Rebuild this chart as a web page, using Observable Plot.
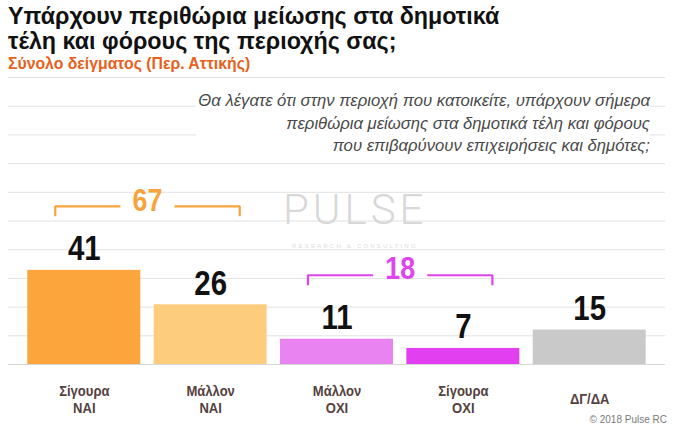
<!DOCTYPE html>
<html>
<head>
<meta charset="utf-8">
<script src="https://cdn.jsdelivr.net/npm/d3@7"></script>
<script src="https://cdn.jsdelivr.net/npm/@observablehq/plot@0.6"></script>
<style>
  html, body { margin: 0; padding: 0; background: #fff; }
  #wrap { position: relative; width: 673px; height: 431px; overflow: hidden; background: #fff; }
  #head { height: 72px; box-sizing: border-box; padding: 4px 0 0 8px; font-family: "Liberation Sans", Arial, sans-serif; }
  #title { font-size: 23.3px; font-weight: bold; line-height: 25px; color: #111; }
  #subtitle { font-size: 15.8px; font-weight: bold; color: #e8601c; margin-top: 1px; line-height: 18px; }
  #question { position: absolute; left: 196px; width: 454px; top: 90px; height: 62px; background: #fff;
    font-family: "Liberation Sans", Arial, sans-serif; font-style: italic; font-size: 16.7px; line-height: 22.5px;
    color: #4a4a4a; text-align: right; }
  #wm { position: absolute; left: 283px; top: 187px; font-family: Roboto, "DejaVu Sans", sans-serif; font-weight: 300;
    font-size: 42px; letter-spacing: 4px; color: #d8d8d8; line-height: 46px; }
  #wm2 { position: absolute; left: 292px; top: 243px; font-family: "Liberation Sans", Arial, sans-serif;
    font-size: 6px; letter-spacing: 2.2px; color: #dcdcdc; }
  #copy { position: absolute; right: 6px; top: 414px; font-family: "Liberation Sans", Arial, sans-serif;
    font-size: 10px; color: #7a7a7a; }
  svg { display: block; }
</style>
</head>
<body>
<div id="wrap">
  <div id="head">
    <div id="title">Υπάρχουν περιθώρια μείωσης στα δημοτικά<br>τέλη και φόρους της περιοχής σας;</div>
    <div id="subtitle">Σύνολο δείγματος (Περ. Αττικής)</div>
  </div>
  <div id="chart"></div>
  <div id="question">Θα λέγατε ότι στην περιοχή που κατοικείτε, υπάρχουν σήμερα<br>περιθώρια μείωσης στα δημοτικά τέλη και φόρους<br>που επιβαρύνουν επιχειρήσεις και δημότες;</div>
  <div id="wm">PULSE</div>
  <div id="wm2">RESEARCH &amp; CONSULTING</div>
  <div id="copy">© 2018 Pulse RC</div>
</div>
<script>
// ---- data ----
const categories = ["Σίγουρα\nΝΑΙ", "Μάλλον\nΝΑΙ", "Μάλλον\nΟΧΙ", "Σίγουρα\nΟΧΙ", "ΔΓ/ΔΑ"];
const values = [41, 26, 11, 7, 15];
const groupMembers = [[0, 1], [2, 3]];   // ΝΑΙ total, ΟΧΙ total
const gridTicks = [0, 12.5, 25, 37.5, 50, 62.5, 75, 87.5, 100, 112.5, 125];

// ---- style ----
const barColors = ["#fba53c", "#fdcc7d", "#e883f1", "#e23ff0", "#c9c9c9"];
const groupColors = ["#f7a43e", "#df45ee"];

const H = 359, mTop = 5, mBottom = 67;
const unitsPerPx = 125 / (H - mTop - mBottom);
const halfBar = 0.447, bracketOut = 0.23, gapHalf = 0.214;

const bars = categories.map((c, i) => ({i, cat: c, value: values[i]}));

const groups = groupMembers.map((m, g) => {
  const a = m[0], b = m[m.length - 1];
  const top = d3.max(m, k => values[k]);
  return {g, a, b, mid: (a + b) / 2, sum: d3.sum(m, k => values[k]), top,
          yLine: top + 64 * unitsPerPx, yTick: top + 54 * unitsPerPx};
});
const bracketPts = [];
groups.forEach(G => {
  bracketPts.push({z: G.g + "L", g: G.g, x: G.a - bracketOut, y: G.yTick});
  bracketPts.push({z: G.g + "L", g: G.g, x: G.a - bracketOut, y: G.yLine});
  bracketPts.push({z: G.g + "L", g: G.g, x: G.mid - gapHalf, y: G.yLine});
  bracketPts.push({z: G.g + "R", g: G.g, x: G.mid + gapHalf, y: G.yLine});
  bracketPts.push({z: G.g + "R", g: G.g, x: G.b + bracketOut, y: G.yLine});
  bracketPts.push({z: G.g + "R", g: G.g, x: G.b + bracketOut, y: G.yTick});
});

const chart = Plot.plot({
  width: 673,
  height: H,
  marginTop: mTop,
  marginBottom: mBottom,
  marginLeft: 8,
  marginRight: 8,
  x: {type: "linear", domain: [-0.6, 4.6], axis: null},
  y: {domain: [0, 125], axis: null},
  style: {fontFamily: "'Liberation Sans', Arial, sans-serif", background: "#fff"},
  marks: [
    Plot.gridY(gridTicks, {stroke: "#e2e2e2", strokeOpacity: 1, strokeWidth: 1}),
    Plot.ruleY([0], {stroke: "#d8d8d8", strokeWidth: 1.2}),
    Plot.rectY(bars, {x1: d => d.i - halfBar, x2: d => d.i + halfBar, y: "value",
      fill: d => barColors[d.i]}),
    Plot.text(bars, {x: "i", y: "value", text: d => String(d.value), dy: -10, lineAnchor: "bottom",
      fontSize: 35, fontWeight: "bold", fill: "#111", className: "narrow"}),
    Plot.text(bars, {x: "i", y: 0, text: "cat", dy: 34.5, lineAnchor: "middle", lineHeight: 1.15,
      fontSize: 14.5, fontWeight: "bold", fill: "#55423f", className: "narrowLab"}),
    Plot.line(bracketPts, {x: "x", y: "y", z: "z", stroke: d => groupColors[d.g], strokeWidth: 2.2,
      strokeLinejoin: "miter", strokeLinecap: "butt"}),
    Plot.text(groups, {x: "mid", y: "yLine", text: d => String(d.sum), dy: -6, lineAnchor: "middle",
      fontSize: 32, fontWeight: "bold", fill: d => groupColors[d.g], className: "narrow"})
  ]
});
// condense the big numbers horizontally (narrow face look)
function condense(sel, k) {
  chart.querySelectorAll(sel).forEach(t => {
    const tr = t.getAttribute("transform") || "";
    t.setAttribute("transform", tr + ` scale(${k},1)`);
  });
}
condense("g.narrow text", 0.84);
condense("g.narrowLab text", 0.9);
document.getElementById("chart").appendChild(chart);
</script>
</body>
</html>
